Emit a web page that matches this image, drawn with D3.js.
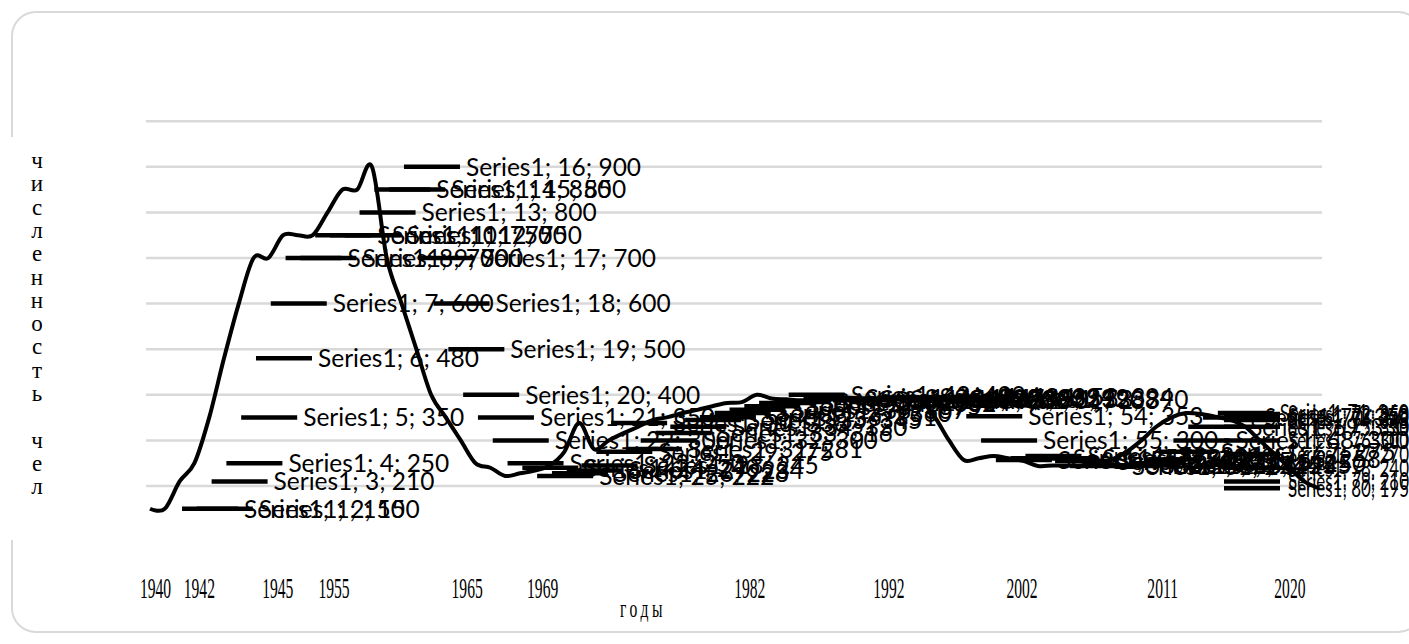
<!DOCTYPE html>
<html>
<head>
<meta charset="utf-8">
<script src="https://cdn.jsdelivr.net/npm/d3@7"></script>
<style>
  body { margin: 0; background: #fff; }
</style>
</head>
<body>
<svg id="chart" width="1409" height="644"></svg>
<script>
// point index 1..80 and the value
var values = [
  150, 150, 210, 250, 350, 480, 600, 700, 700, 750,
  750, 750, 800, 850, 850, 900, 700, 600, 500, 400,
  350, 300, 250, 240, 222, 228, 234, 245, 275, 338,
  281, 300, 316, 330, 345, 351, 360, 367, 375, 382,
  384, 400, 392, 390, 388, 390, 392, 394, 392, 390,
  388, 394, 390, 353, 300, 257, 261, 266, 261, 255,
  244, 245, 245, 245, 250, 258, 275, 300, 330, 350,
  360, 358, 352, 345, 330, 300, 270, 240, 210, 195
];
var seriesName = "Series1";
var yearLabels = ["1940", "1942", "1945", "1955", "1965", "1969", "1982", "1992", "2002", "2011", "2020"];
// where each year label sits, in point-index units
var yearAt = [1.34, 4.3, 9.6, 13.4, 22.4, 27.5, 41.5, 50.9, 59.9, 69.4, 78.0];
var gridValues = [200, 300, 400, 500, 600, 700, 800, 900, 1000];
var yTitle = "численность чел";
var xTitle = "годы";

var svg = d3.select("#chart"),
    W = +svg.attr("width"),
    H = +svg.attr("height");

var x = d3.scaleLinear().domain([1, 80]).range([150, 1319]);
var y = d3.scaleLinear().domain([0, 1000]).range([577.2, 121.2]);

// frame
svg.append("rect")
    .attr("x", 12).attr("y", 12)
    .attr("width", 1410).attr("height", 620)
    .attr("rx", 24)
    .attr("fill", "#fff")
    .attr("stroke", "#d9d9d9")
    .attr("stroke-width", 2);

// the title box hides part of the left border
svg.append("rect")
    .attr("x", 0).attr("y", 137)
    .attr("width", 26).attr("height", 403)
    .attr("fill", "#fff");

// gridlines
svg.append("g")
    .selectAll("line")
    .data(gridValues)
    .enter().append("line")
      .attr("x1", 146).attr("x2", 1322)
      .attr("y1", function(d) { return y(d); })
      .attr("y2", function(d) { return y(d); })
      .attr("stroke", "#d9d9d9")
      .attr("stroke-width", 2.5);

var pts = values.map(function(v, i) { return { i: i + 1, v: v }; });

var line = d3.line()
    .x(function(d) { return x(d.i); })
    .y(function(d) { return y(d.v); })
    .curve(d3.curveCatmullRom.alpha(0));

svg.append("path")
    .datum(pts)
    .attr("d", line)
    .attr("fill", "none")
    .attr("stroke", "#000")
    .attr("stroke-width", 4)
    .attr("stroke-linejoin", "round");

// data labels with legend key, pushed back inside the chart at the right
var labels = svg.append("g").attr("class", "labels");

pts.forEach(function(d) {
  var px = x(d.i), py = y(d.v);
  var keyStart = Math.min(px + 32, 1224);
  var textStart = Math.min(px + 94, 1288);
  labels.append("line")
      .attr("x1", keyStart).attr("x2", keyStart + 56)
      .attr("y1", py).attr("y2", py)
      .attr("stroke", "#000")
      .attr("stroke-width", 4.5);
  var t = labels.append("text")
      .attr("x", textStart)
      .attr("y", py)
      .attr("dy", "0.36em")
      .attr("font-family", "Lato, 'Open Sans', sans-serif")
      .attr("font-size", 24.5)
      .attr("fill", "#000")
      .text(seriesName + "; " + d.i + "; " + d.v);
  var len = t.node().getComputedTextLength();
  if (textStart + len > W) {
    t.attr("textLength", W - textStart).attr("lengthAdjust", "spacingAndGlyphs");
  }
});

// year labels
var xAxis = svg.append("g")
    .attr("transform", "translate(0,575)")
    .call(d3.axisBottom(x)
      .tickValues(yearAt)
      .tickSize(0)
      .tickFormat(function(d, i) { return yearLabels[i]; }));
xAxis.select(".domain").remove();
xAxis.selectAll("text")
    .attr("y", 0)
    .attr("dy", 0)
    .attr("transform", "translate(0,23) scale(0.52,1)")
    .attr("font-family", "'Liberation Serif', 'Times New Roman', serif")
    .attr("font-size", 30)
    .attr("fill", "#000");

// axis titles
svg.append("text")
    .attr("transform", "translate(643,617) scale(0.6,1)")
    .attr("text-anchor", "middle")
    .attr("font-family", "'Liberation Serif', 'Times New Roman', serif")
    .attr("font-size", 26)
    .attr("letter-spacing", 6)
    .attr("fill", "#000")
    .text(xTitle);

svg.append("g")
    .selectAll("text")
    .data(yTitle.split(""))
    .enter().append("text")
      .attr("x", 37)
      .attr("y", function(d, i) { return 168 + i * 23.3; })
      .attr("text-anchor", "middle")
      .attr("font-family", "'Liberation Serif', 'Times New Roman', serif")
      .attr("font-size", 23)
      .attr("fill", "#000")
      .text(function(d) { return d; });
</script>
</body>
</html>
